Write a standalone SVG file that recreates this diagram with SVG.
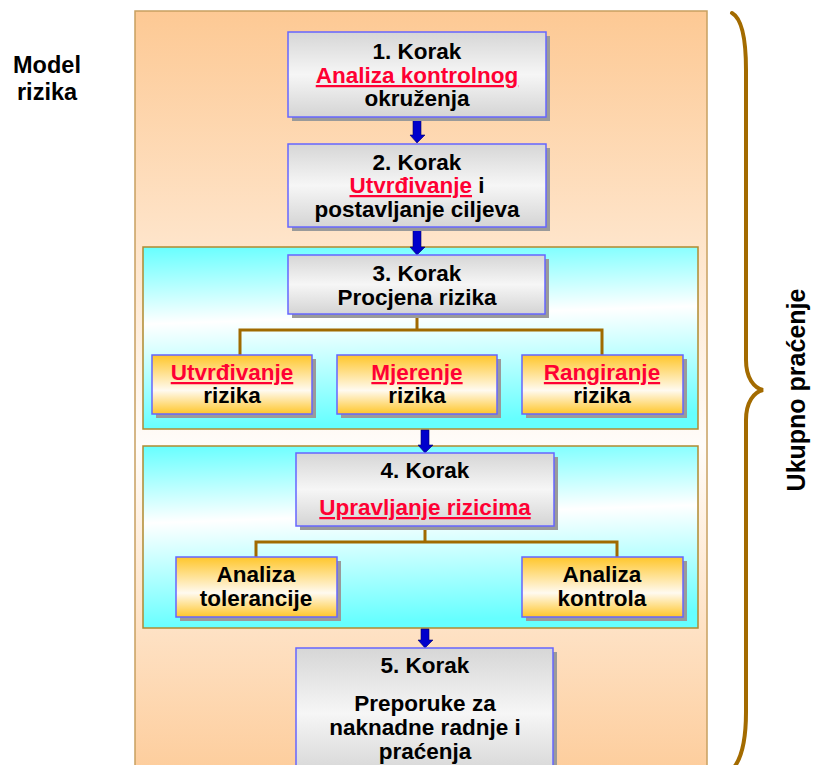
<svg xmlns="http://www.w3.org/2000/svg" width="813" height="765" viewBox="0 0 813 765">
<defs>
<linearGradient id="gOuter" gradientUnits="userSpaceOnUse" x1="0" y1="11" x2="0" y2="800">
<stop offset="0" stop-color="#FDC994"/>
<stop offset="0.55" stop-color="#FFFCF9"/>
<stop offset="1" stop-color="#FDC994"/>
</linearGradient>
<linearGradient id="gCyan" x1="0" y1="0" x2="0.1" y2="1">
<stop offset="0" stop-color="#66FFFF"/>
<stop offset="0.42" stop-color="#FFFFFF"/>
<stop offset="1" stop-color="#66FFFF"/>
</linearGradient>
<linearGradient id="gGray" x1="0" y1="0" x2="0" y2="1">
<stop offset="0" stop-color="#D6D6D6"/>
<stop offset="0.5" stop-color="#F6F6F6"/>
<stop offset="1" stop-color="#D4D4D4"/>
</linearGradient>
<linearGradient id="gYellow" x1="0" y1="0" x2="0" y2="1">
<stop offset="0" stop-color="#FFC62A"/>
<stop offset="0.6" stop-color="#FFFAF0"/>
<stop offset="1" stop-color="#FFC62A"/>
</linearGradient>
</defs>
<style>
.t{font-family:"Liberation Sans",Arial,sans-serif;font-weight:bold;font-size:22.5px;fill:#000;text-anchor:middle}
.r{fill:#FF0033;text-decoration:underline}
.box{stroke:#6666FF;stroke-width:1.5}
.gray{fill:url(#gGray)}
.yel{fill:url(#gYellow)}
.sh{fill:#9A9A9A}
.panel{fill:url(#gCyan);stroke:#B08A30;stroke-width:1.5}
.arr{fill:#0000CC;stroke:#000066;stroke-width:0.6}
.con{fill:none;stroke:#A06A00;stroke-width:3}
</style>

<g id="background">
<rect x="135" y="11" width="572" height="800" fill="url(#gOuter)" stroke="#C8A060" stroke-width="1.5"/>
<rect id="panel3" class="panel" x="143" y="247" width="555" height="182"/>
<rect id="panel4" class="panel" x="143" y="446" width="555" height="182"/>
</g>

<g id="connectors">
<path class="con" d="M417 314 V330 M240 355 V330 H602 V355"/>
<path class="con" d="M425 526 V542 M256 557 V542 H617 V557"/>
<path class="arr" d="M413 120 H421 V135 H425 L417 143 L410 135 H413 Z"/>
<path class="arr" d="M413 228 H421 V247 H425 L417 255 L410 247 H413 Z"/>
<path class="arr" d="M421 430 H429 V445 H433 L425 453 L418 445 H421 Z"/>
<path class="arr" d="M421 629 H429 V640 H433 L425 648 L418 640 H421 Z"/>
</g>

<g id="step1">
<rect class="sh" x="292" y="36" width="258" height="85"/>
<rect class="box gray" x="288" y="32" width="258" height="85"/>
<text class="t" x="417" y="59">1. Korak</text>
<text class="t" x="417" y="83"><tspan class="r">Analiza kontrolnog</tspan></text>
<text class="t" x="417" y="106">okruženja</text>
</g>

<g id="step2">
<rect class="sh" x="292" y="148" width="258" height="83"/>
<rect class="box gray" x="288" y="144" width="258" height="83"/>
<text class="t" x="417" y="170">2. Korak</text>
<text class="t" x="417" y="193"><tspan class="r">Utvrđivanje</tspan> i</text>
<text class="t" x="417" y="217">postavljanje ciljeva</text>
</g>

<g id="step3">
<rect class="sh" x="292" y="259" width="257" height="59"/>
<rect class="box gray" x="288" y="255" width="257" height="59"/>
<text class="t" x="417" y="281">3. Korak</text>
<text class="t" x="417" y="305">Procjena rizika</text>
</g>

<g id="utvrdivanje">
<rect class="sh" x="156" y="359" width="160" height="59"/>
<rect class="box yel" x="152" y="355" width="160" height="59"/>
<text class="t" x="232" y="380"><tspan class="r">Utvrđivanje</tspan></text>
<text class="t" x="232" y="403">rizika</text>
</g>

<g id="mjerenje">
<rect class="sh" x="341" y="359" width="160" height="59"/>
<rect class="box yel" x="337" y="355" width="160" height="59"/>
<text class="t" x="417" y="380"><tspan class="r">Mjerenje</tspan></text>
<text class="t" x="417" y="403">rizika</text>
</g>

<g id="rangiranje">
<rect class="sh" x="526" y="359" width="161" height="59"/>
<rect class="box yel" x="522" y="355" width="161" height="59"/>
<text class="t" x="602" y="380"><tspan class="r">Rangiranje</tspan></text>
<text class="t" x="602" y="403">rizika</text>
</g>

<g id="step4">
<rect class="sh" x="300" y="457" width="258" height="73"/>
<rect class="box gray" x="296" y="453" width="258" height="73"/>
<text class="t" x="425" y="478">4. Korak</text>
<text class="t" x="425" y="515"><tspan class="r">Upravljanje rizicima</tspan></text>
</g>

<g id="tolerancija">
<rect class="sh" x="180" y="561" width="161" height="60"/>
<rect class="box yel" x="176" y="557" width="161" height="60"/>
<text class="t" x="256" y="582">Analiza</text>
<text class="t" x="256" y="606">tolerancije</text>
</g>

<g id="kontrola">
<rect class="sh" x="526" y="561" width="161" height="60"/>
<rect class="box yel" x="522" y="557" width="161" height="60"/>
<text class="t" x="602" y="582">Analiza</text>
<text class="t" x="602" y="606">kontrola</text>
</g>

<g id="step5">
<rect class="sh" x="300" y="652" width="257" height="130"/>
<rect class="box gray" x="296" y="648" width="257" height="130"/>
<text class="t" x="425" y="673">5. Korak</text>
<text class="t" x="425" y="711">Preporuke za</text>
<text class="t" x="425" y="735">naknadne radnje i</text>
<text class="t" x="425" y="759">praćenja</text>
</g>

<g id="model">
<text class="t" style="font-size:23.5px" x="47" y="73">Model</text>
<text class="t" style="font-size:23.5px" x="47" y="100">rizika</text>
</g>

<g id="brace">
<path d="M732 13 C741 18 746 35 746 70 L746 360 C746 378 754 388 763 390 C754 392 746 402 746 420 L746 712 C746 740 742 756 735 766" fill="none" stroke="#A36B00" stroke-width="4" stroke-linecap="round"/>
<text class="t" style="font-size:25px" transform="translate(805 390) rotate(-90)" x="0" y="0">Ukupno praćenje</text>
</g>
</svg>
